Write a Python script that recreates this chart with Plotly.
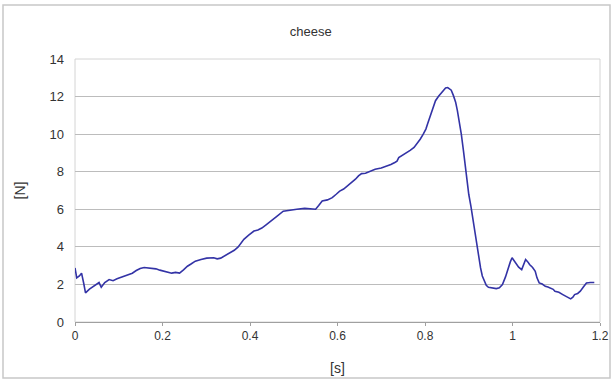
import plotly.graph_objects as go

# Force–time trace for the cheese sample
time_s = [0.000, 0.004, 0.010, 0.015, 0.020, 0.024, 0.033, 0.042, 0.050, 0.055,
          0.060, 0.068, 0.078, 0.087, 0.096, 0.105, 0.114, 0.122, 0.131, 0.140,
          0.149, 0.158, 0.167, 0.176, 0.185, 0.194, 0.203, 0.212, 0.221, 0.230,
          0.239, 0.248, 0.257, 0.266, 0.275, 0.288, 0.301, 0.317, 0.325, 0.333,
          0.344, 0.355, 0.364, 0.373, 0.386, 0.397, 0.409, 0.418, 0.427, 0.436,
          0.444, 0.453, 0.462, 0.476, 0.490, 0.507, 0.525, 0.543, 0.550, 0.557,
          0.565, 0.577, 0.588, 0.597, 0.605, 0.614, 0.623, 0.632, 0.641, 0.648,
          0.655, 0.664, 0.672, 0.679, 0.686, 0.700, 0.713, 0.722, 0.731, 0.736,
          0.740, 0.748, 0.757, 0.766, 0.775, 0.782, 0.789, 0.796, 0.802, 0.806,
          0.811, 0.818, 0.824, 0.831, 0.838, 0.843, 0.847, 0.852, 0.856, 0.860,
          0.865, 0.870, 0.874, 0.879, 0.883, 0.888, 0.892, 0.896, 0.900, 0.905,
          0.909, 0.914, 0.918, 0.922, 0.927, 0.931, 0.936, 0.940, 0.945, 0.954,
          0.963, 0.970, 0.977, 0.984, 0.990, 0.995, 0.999, 1.004, 1.008, 1.014,
          1.021, 1.026, 1.030, 1.035, 1.039, 1.046, 1.052, 1.056, 1.061, 1.068,
          1.075, 1.081, 1.088, 1.093, 1.097, 1.106, 1.115, 1.124, 1.133, 1.138,
          1.142, 1.149, 1.155, 1.162, 1.169, 1.178, 1.187]
force_n = [2.88, 2.35, 2.45, 2.60, 2.05, 1.55, 1.75, 1.90, 2.00, 2.10,
           1.85, 2.10, 2.26, 2.20, 2.30, 2.38, 2.44, 2.52, 2.60, 2.74,
           2.85, 2.90, 2.88, 2.86, 2.83, 2.76, 2.70, 2.66, 2.60, 2.64,
           2.60, 2.78, 2.97, 3.10, 3.24, 3.33, 3.40, 3.42, 3.36, 3.40,
           3.55, 3.68, 3.82, 4.00, 4.40, 4.62, 4.84, 4.90, 5.00, 5.16,
           5.30, 5.44, 5.64, 5.90, 5.96, 6.00, 6.05, 6.03, 6.00, 6.20,
           6.44, 6.50, 6.62, 6.80, 6.97, 7.08, 7.24, 7.42, 7.60, 7.78,
           7.90, 7.92, 8.00, 8.08, 8.13, 8.20, 8.30, 8.38, 8.49, 8.56,
           8.75, 8.86, 9.00, 9.14, 9.29, 9.50, 9.73, 10.00, 10.27, 10.55,
           10.90, 11.40, 11.78, 12.02, 12.22, 12.38, 12.46, 12.48, 12.40, 12.34,
           12.05, 11.70, 11.25, 10.65, 10.00, 9.10, 8.22, 7.50, 6.80, 6.15,
           5.55, 4.80, 4.13, 3.50, 2.88, 2.45, 2.17, 1.95, 1.85, 1.82,
           1.78, 1.82, 1.99, 2.40, 2.88, 3.20, 3.42, 3.25, 3.06, 2.92,
           2.79, 3.05, 3.33, 3.20, 3.06, 2.90, 2.70, 2.35, 2.08, 2.02,
           1.90, 1.86, 1.81, 1.74, 1.64, 1.58, 1.46, 1.36, 1.23, 1.32,
           1.46, 1.52, 1.64, 1.86, 2.08, 2.10, 2.10]

x_ticks = [0, 0.2, 0.4, 0.6, 0.8, 1, 1.2]
x_tick_labels = ["0", "0.2", "0.4", "0.6", "0.8", "1", "1.2"]
y_ticks = [0, 2, 4, 6, 8, 10, 12, 14]

font_family = "Liberation Sans, Arial, sans-serif"
text_color = "#333333"

fig = go.Figure()
fig.add_trace(go.Scatter(
    x=time_s, y=force_n, mode="lines",
    line=dict(color="#3333a6", width=1.6),
    showlegend=False, hoverinfo="skip",
))

plot_w = 613 - 75 - 13
plot_h = 381 - 59 - 59

fig.update_layout(
    width=613, height=381,
    margin=dict(l=75, r=13, t=59, b=59, autoexpand=False),
    paper_bgcolor="white", plot_bgcolor="white",
    title=dict(text="cheese", x=0.507, xanchor="center", y=0.918, yanchor="middle",
               font=dict(family=font_family, size=13, color=text_color)),
    font=dict(family=font_family, size=12, color=text_color),
    xaxis=dict(
        range=[0, 1.2], tickvals=x_ticks, ticktext=x_tick_labels,
        showgrid=False, zeroline=False,
        showline=True, linecolor="#a0a0a0", linewidth=1,
        ticks="outside", ticklen=3, tickcolor="#a0a0a0",
        mirror=False, automargin=False, ticklabeloverflow="allow",
        title=dict(text="[s]", standoff=20, font=dict(size=14, color=text_color)),
        tickfont=dict(size=12, color=text_color),
    ),
    yaxis=dict(
        range=[0, 14], tickvals=y_ticks,
        showgrid=True, gridcolor="#bcbcbc", gridwidth=1,
        zeroline=False, showline=False, automargin=False,
        ticks="", ticklabelstandoff=10,
        title=dict(text="[N]", standoff=20, font=dict(size=14, color=text_color)),
        tickfont=dict(size=13, color=text_color),
    ),
    shapes=[
        # light frame around the plot area
        dict(type="rect", xref="paper", yref="paper", x0=0, y0=0, x1=1, y1=1,
             line=dict(color="#d4d4d4", width=1), layer="below"),
        # outer chart border
        dict(type="rect", xref="paper", yref="paper",
             x0=-72 / plot_w, x1=1 + 10 / plot_w, y0=-56 / plot_h, y1=1 + 54 / plot_h,
             line=dict(color="#c8c8c8", width=1.5)),
    ],
)

fig.write_html("out.html")
